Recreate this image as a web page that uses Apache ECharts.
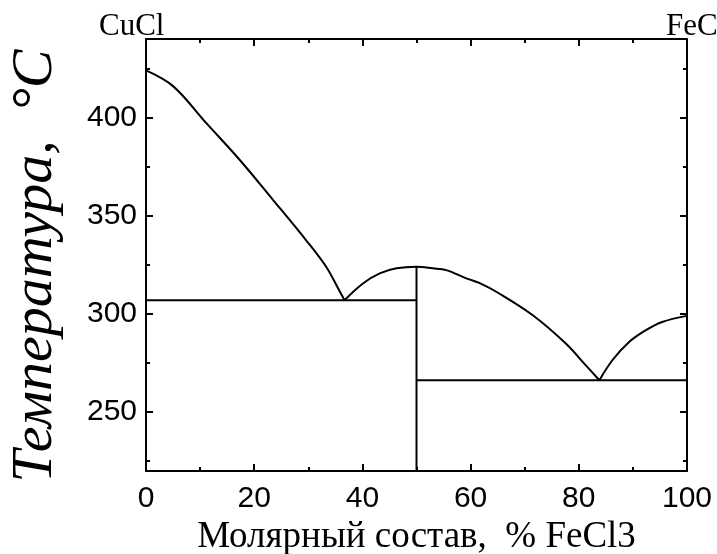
<!DOCTYPE html>
<html>
<head>
<meta charset="utf-8">
<script src="https://cdn.jsdelivr.net/npm/echarts@6/dist/echarts.min.js"></script>
<style>
  html, body { margin: 0; padding: 0; background: #fff; }
  #chart { width: 717px; height: 554px; }
</style>
</head>
<body>
<div id="chart"></div>
<script>
// phase diagram CuCl - FeCl3
const cuclLiquidus = [[0, 424], [5, 416], [11.2, 397], [17.3, 378.5], [23.5, 358], [29.6, 337.5], [33.3, 324], [35.8, 311.5], [36.7, 307]];
const compoundLiquidus = [[36.7, 307], [40.1, 315.5], [43.2, 320.6], [46.3, 323.2], [50, 324], [53, 323.2], [55.5, 322.3], [59.2, 318.1], [61.6, 315.8], [65.3, 310.4], [71.5, 299.3], [77.6, 284.9], [81.3, 273.8], [83.8, 266.2]];
const fecl3Liquidus = [[83.8, 266.2], [86.2, 276.4], [89.3, 285.7], [92.4, 291.7], [95.4, 295.9], [100, 299]];
const eutectic1 = [[0, 307], [50, 307]];
const eutectic2 = [[50, 266.2], [100, 266.2]];
const compoundLine = [[50, 324], [50, 220]];

const yMajor = [250, 300, 350, 400];
const yMinor = [225, 275, 325, 375, 425];
const yRange = [220, 440];

const black = '#000';
const serif = '"Liberation Serif", "Times New Roman", serif';
const sans = '"Liberation Sans", Arial, sans-serif';

function yAxisDef(pos, ticks, len, labels) {
  return {
    type: 'value', position: pos, min: yRange[0], max: yRange[1],
    axisLine: { show: len > 5, lineStyle: { color: black, width: 2 } },
    axisTick: { show: true, inside: true, length: len, customValues: ticks, lineStyle: { color: black, width: 2 } },
    axisLabel: labels
      ? { show: true, customValues: ticks, color: black, fontFamily: sans, fontSize: 30, margin: 9 }
      : { show: false },
    splitLine: { show: false }
  };
}

function xAxisDef(pos, labels) {
  return {
    type: 'value', position: pos, min: 0, max: 100, interval: 20,
    axisLine: { show: true, onZero: false, lineStyle: { color: black, width: 2 } },
    axisTick: { show: true, inside: true, length: 7, lineStyle: { color: black, width: 2 } },
    minorTick: { show: true, splitNumber: 2, length: 4, lineStyle: { color: black, width: 2 } },
    axisLabel: labels
      ? { show: true, color: black, fontFamily: sans, fontSize: 30, margin: 13 }
      : { show: false },
    splitLine: { show: false },
    minorSplitLine: { show: false },
    name: labels ? 'Молярный состав,  % FeCl3' : '',
    nameLocation: 'middle',
    nameGap: 46,
    nameTextStyle: { color: black, fontFamily: serif, fontSize: 37 }
  };
}

function lineSeries(data, smooth) {
  return {
    type: 'line', data: data, xAxisIndex: 0, yAxisIndex: 0,
    showSymbol: false, smooth: smooth ? 0.35 : false,
    lineStyle: { color: black, width: 2 }, silent: true, animation: false
  };
}

const chart = echarts.init(document.getElementById('chart'));
chart.setOption({
  animation: false,
  backgroundColor: '#fff',
  grid: { left: 146, right: 30, top: 39, bottom: 83, containLabel: false, outerBoundsMode: 'none' },
  xAxis: [xAxisDef('bottom', true), xAxisDef('top', false)],
  yAxis: [
    yAxisDef('left', yMajor, 7, true),
    yAxisDef('left', yMinor, 4, false),
    yAxisDef('right', yMajor, 7, false),
    yAxisDef('right', yMinor, 4, false)
  ],
  graphic: [
    { type: 'text', left: 99, top: 11, style: { text: 'CuCl', font: '31px ' + serif, fill: black } },
    { type: 'text', left: 666, top: 11, style: { text: 'FeCl3', font: '31px ' + serif, fill: black } },
    {
      type: 'text', x: 36, y: 266, rotation: Math.PI / 2,
      style: { text: 'Температура,  °C', font: 'italic 58px ' + serif, fill: black, align: 'center', verticalAlign: 'middle' }
    }
  ],
  series: [
    lineSeries(cuclLiquidus, true),
    lineSeries(compoundLiquidus, true),
    lineSeries(fecl3Liquidus, true),
    lineSeries(eutectic1, false),
    lineSeries(eutectic2, false),
    lineSeries(compoundLine, false)
  ]
});
</script>
</body>
</html>
